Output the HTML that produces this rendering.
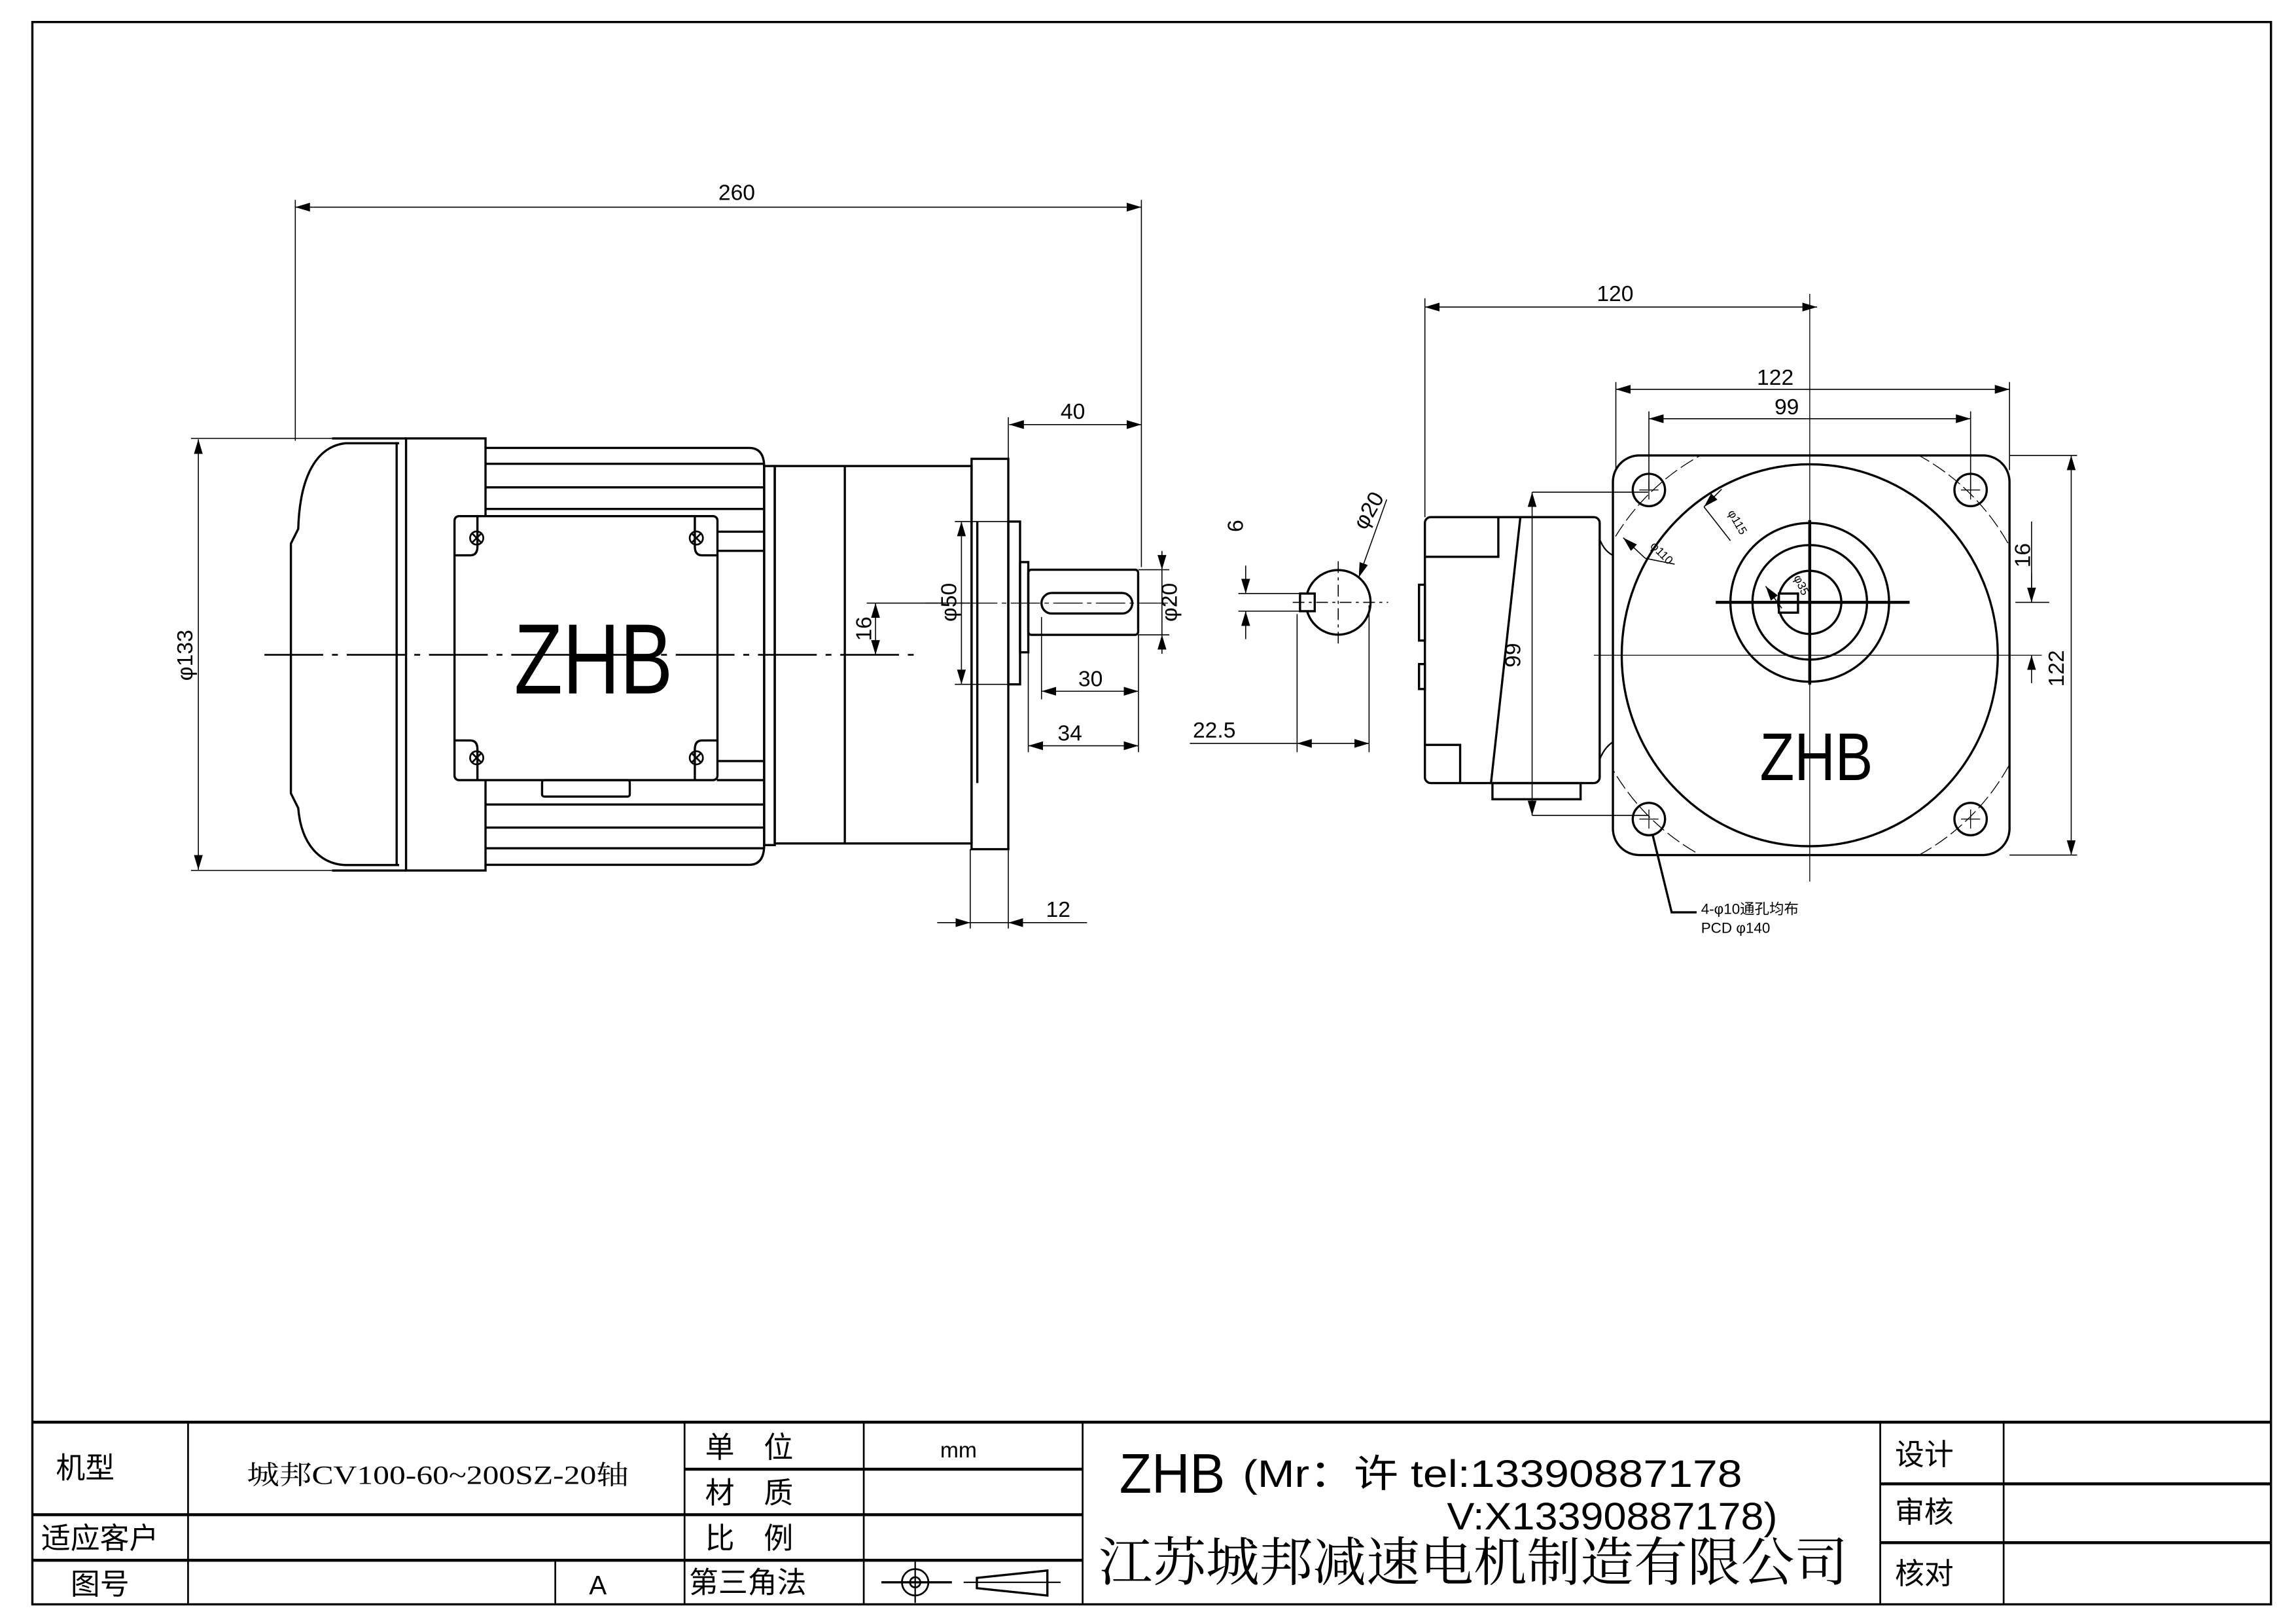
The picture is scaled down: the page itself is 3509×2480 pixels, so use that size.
<!DOCTYPE html>
<html><head><meta charset="utf-8"><style>
html,body{margin:0;padding:0;background:#fff}
svg{display:block}
text{font-family:"Liberation Sans","Noto Sans CJK SC",sans-serif;fill:#000}
.s{font-family:"Liberation Serif","Noto Serif CJK SC",serif}
</style></head><body>
<svg width="3509" height="2480" viewBox="0 0 1563 1104.7" xmlns="http://www.w3.org/2000/svg">
<defs>
<marker id="a" viewBox="0 0 10 6" refX="10" refY="3" markerWidth="10" markerHeight="6" orient="auto-start-reverse" markerUnits="userSpaceOnUse"><path d="M0,0 L10,3 L0,6z" fill="#000"/></marker>
</defs>
<rect width="1563" height="1105" fill="#fff"/>
<g fill="none" stroke="#000">
<rect x="22" y="15" width="1524" height="1077" stroke-width="1.5"/>
<g stroke-width="2">
<line x1="22" y1="968" x2="1546" y2="968"/>
<line x1="22" y1="1031" x2="737" y2="1031"/>
<line x1="22" y1="1062" x2="737" y2="1062"/>
<line x1="466" y1="1000" x2="737" y2="1000"/>
<line x1="1280" y1="1010" x2="1546" y2="1010"/>
<line x1="1280" y1="1050" x2="1546" y2="1050"/>
</g>
<g stroke-width="1.2">
<line x1="128" y1="968" x2="128" y2="1092"/>
<line x1="378" y1="1062" x2="378" y2="1092"/>
<line x1="466" y1="968" x2="466" y2="1092"/>
<line x1="588" y1="968" x2="588" y2="1092"/>
<line x1="737" y1="968" x2="737" y2="1092"/>
<line x1="1280" y1="968" x2="1280" y2="1092"/>
<line x1="1364" y1="968" x2="1364" y2="1092"/>
</g>
<circle cx="623" cy="1077" r="9" stroke-width="1.2"/><circle cx="623" cy="1077" r="3.5" stroke-width="1.2"/>
<line x1="600" y1="1077" x2="648" y2="1077" stroke-width="1.5"/><line x1="623" y1="1063" x2="623" y2="1091" stroke-width="1"/>
<path d="M713,1069 L665,1074 L665,1081 L713,1086 Z" stroke-width="1.5"/><line x1="656" y1="1077" x2="722" y2="1077" stroke-width="1"/>

<g stroke-width="1.5">
<path d="M271.7,301.7 L235,301.7 C215,304 204,325 203,360 L198,370 L198,540 L203,550 C205,575 218,588 235,588.8 L271.7,588.8"/>
<line x1="226" y1="298.4" x2="276.4" y2="298.4"/><line x1="226" y1="592.5" x2="276.4" y2="592.5"/>
<line x1="270" y1="301" x2="270" y2="589"/>
<rect x="276.4" y="298.4" width="54.1" height="294.1"/>
<path d="M330.5,304.9 H510 Q520.2,304.9 520.2,318 V575 Q520.2,588.6 510,588.6 H330.5"/>
<line x1="330.5" y1="315.7" x2="520.2" y2="315.7"/><line x1="330.5" y1="331.7" x2="520.2" y2="331.7"/><line x1="330.5" y1="346.4" x2="520.2" y2="346.4"/>
<line x1="330.5" y1="547.6" x2="520.2" y2="547.6"/><line x1="330.5" y1="563.3" x2="520.2" y2="563.3"/><line x1="330.5" y1="577.4" x2="520.2" y2="577.4"/>
<line x1="488" y1="361.9" x2="520.2" y2="361.9"/><line x1="488" y1="374.9" x2="520.2" y2="374.9"/>
<line x1="488" y1="518" x2="520.2" y2="518"/><line x1="488" y1="531" x2="520.2" y2="531"/>
<rect x="520.2" y="317.2" width="7.2" height="258"/>
<rect x="527.4" y="317.2" width="134" height="256.9"/>
<line x1="575.1" y1="317.2" x2="575.1" y2="574.1"/>
<rect x="661.4" y="312.3" width="25" height="265.7"/>
<line x1="665.3" y1="355" x2="665.3" y2="533"/>
<rect x="686.4" y="355" width="8" height="110.8"/>
<rect x="694.4" y="382.6" width="5.6" height="61.4"/>
<rect x="700" y="387.8" width="74.8" height="44.3" rx="2"/>
<rect x="709" y="403.6" width="61.8" height="14" rx="7"/>
<rect x="309.4" y="351.3" width="179" height="179.7" rx="3" fill="#fff"/>
<path d="M309.4,378 H320 Q325,378 325,372 V351.3 M488.4,378 H478 Q473,378 473,372 V351.3 M309.4,504 H320 Q325,504 325,510 V531 M488.4,504 H478 Q473,504 473,510 V531"/>
<rect x="369" y="531" width="59.7" height="11.2" rx="1.5"/>
</g>
<g stroke-width="1.2">
<circle cx="324.5" cy="366.2" r="4.5"/><path d="M321.3,363 l6.4,6.4 M327.7,363 l-6.4,6.4"/>
<circle cx="474" cy="366.2" r="4.5"/><path d="M470.8,363 l6.4,6.4 M477.2,363 l-6.4,6.4"/>
<circle cx="324.5" cy="515.8" r="4.5"/><path d="M321.3,512.6 l6.4,6.4 M327.7,512.6 l-6.4,6.4"/>
<circle cx="474" cy="515.8" r="4.5"/><path d="M470.8,512.6 l6.4,6.4 M477.2,512.6 l-6.4,6.4"/>
</g>
<line x1="180" y1="445.7" x2="628" y2="445.7" stroke-width="1.2" stroke-dasharray="40,6,4,6"/>
<line x1="630" y1="410.5" x2="802" y2="410.5" stroke-width="0.6" stroke-dasharray="20,3,3,3"/>
<g stroke-width="0.7">
<line x1="201" y1="136" x2="201" y2="300"/><line x1="777" y1="136" x2="777" y2="386"/>
<line x1="201" y1="141" x2="777" y2="141" marker-start="url(#a)" marker-end="url(#a)"/>
<line x1="686.4" y1="284" x2="686.4" y2="312"/>
<line x1="687" y1="289" x2="777" y2="289" marker-start="url(#a)" marker-end="url(#a)"/>
<line x1="130" y1="298.4" x2="226" y2="298.4"/><line x1="130" y1="592.5" x2="226" y2="592.5"/>
<line x1="135" y1="299" x2="135" y2="592" marker-start="url(#a)" marker-end="url(#a)"/>
<line x1="590" y1="410.5" x2="660" y2="410.5"/>
<line x1="596" y1="410.5" x2="596" y2="445.7" marker-start="url(#a)" marker-end="url(#a)"/>
<line x1="650" y1="355" x2="686" y2="355"/><line x1="650" y1="465.8" x2="686" y2="465.8"/>
<line x1="654.5" y1="355" x2="654.5" y2="465.8" marker-start="url(#a)" marker-end="url(#a)"/>
<line x1="775" y1="387.8" x2="796" y2="387.8"/><line x1="775" y1="432.1" x2="796" y2="432.1"/>
<line x1="791" y1="375" x2="791" y2="387.8" marker-end="url(#a)"/><line x1="791" y1="445" x2="791" y2="432.1" marker-end="url(#a)"/>
<line x1="791" y1="387.8" x2="791" y2="432.1"/>
<line x1="709" y1="420" x2="709" y2="476"/><line x1="700" y1="444" x2="700" y2="512"/><line x1="775" y1="432" x2="775" y2="512"/>
<line x1="709" y1="470.5" x2="775" y2="470.5" marker-start="url(#a)" marker-end="url(#a)"/>
<line x1="700" y1="507.6" x2="775" y2="507.6" marker-start="url(#a)" marker-end="url(#a)"/>
<line x1="660.5" y1="578" x2="660.5" y2="632"/><line x1="686.4" y1="578" x2="686.4" y2="632"/>
<line x1="638" y1="628" x2="660.5" y2="628" marker-end="url(#a)"/><line x1="740" y1="628" x2="686.4" y2="628" marker-end="url(#a)"/>
<line x1="660.5" y1="628" x2="686.4" y2="628"/>
</g>

<g stroke-width="1.5"><circle cx="911" cy="410" r="22"/><rect x="885" y="404" width="10" height="12" fill="#fff"/></g>
<g stroke-width="0.7">
<line x1="880" y1="410" x2="945" y2="410" stroke-dasharray="8,3,2,3"/><line x1="911" y1="382" x2="911" y2="440" stroke-dasharray="8,3,2,3"/>
<line x1="883" y1="418" x2="883" y2="512"/><line x1="932" y1="412" x2="932" y2="512"/>
<line x1="883" y1="506" x2="932" y2="506" marker-start="url(#a)" marker-end="url(#a)"/><line x1="810" y1="506" x2="883" y2="506"/>
<line x1="843" y1="404" x2="885" y2="404"/><line x1="843" y1="416" x2="885" y2="416"/>
<line x1="848" y1="385" x2="848" y2="404" marker-end="url(#a)"/><line x1="848" y1="435" x2="848" y2="416" marker-end="url(#a)"/>
<line x1="944" y1="340" x2="925" y2="393" marker-end="url(#a)"/>
</g>

<g stroke-width="1.5">
<ellipse cx="1232" cy="446" rx="128" ry="130"/>
<circle cx="1232" cy="410" r="54"/><circle cx="1232" cy="410" r="39"/><circle cx="1232" cy="410" r="21.5"/>
<rect x="1211" y="404" width="13" height="13" fill="#fff"/>
<circle cx="1122.5" cy="333.5" r="11"/><circle cx="1341.5" cy="333.5" r="11"/><circle cx="1122.5" cy="557.5" r="11"/><circle cx="1341.5" cy="557.5" r="11"/>
<line x1="1168" y1="410" x2="1300" y2="410" stroke-width="2"/><line x1="1232" y1="354" x2="1232" y2="466" stroke-width="2"/>
</g>
<circle cx="1232" cy="446" r="155" stroke-width="0.6" stroke-dasharray="10,3"/>
<path d="M1050,250 H1420 V640 H1050 Z M1116,310 Q1098,310 1098,328 V564 Q1098,582 1116,582 H1350 Q1368,582 1368,564 V328 Q1368,310 1350,310 Z" fill="#fff" fill-rule="evenodd" stroke="none"/>
<rect x="1098" y="310" width="270" height="272" rx="18" stroke-width="1.5"/>
<rect x="970" y="352" width="119" height="181" rx="4" stroke-width="1.5" fill="#fff"/>
<path d="M970,379 H1020 V352 M970,507 H994 V533 M1035,352 L1015,533" stroke-width="1.5"/>
<rect x="1016" y="533" width="60" height="11" stroke-width="1.5"/>
<rect x="966" y="398" width="4" height="38" stroke-width="1.5"/><rect x="966" y="452" width="4" height="17" stroke-width="1.5"/>
<path d="M1089,367 Q1092,375 1098,378 M1089,517 Q1092,509 1098,505" stroke-width="1"/>
<g stroke-width="0.6">
<line x1="1232" y1="200" x2="1232" y2="600"/>
<line x1="1085" y1="446" x2="1390" y2="446"/>
<path d="M1116,333.5 h13 M1122.5,327 v13 M1335,333.5 h13 M1341.5,327 v13 M1116,557.5 h13 M1122.5,551 v13 M1335,557.5 h13 M1341.5,551 v13"/>
</g>
<g stroke-width="0.7">
<line x1="970" y1="203" x2="970" y2="352"/><line x1="970" y1="209" x2="1237" y2="209" marker-start="url(#a)" marker-end="url(#a)"/>
<line x1="1100" y1="260" x2="1100" y2="320"/><line x1="1368" y1="260" x2="1368" y2="320"/>
<line x1="1100" y1="265" x2="1368" y2="265" marker-start="url(#a)" marker-end="url(#a)"/>
<line x1="1122.5" y1="280" x2="1122.5" y2="333"/><line x1="1341.5" y1="280" x2="1341.5" y2="333"/>
<line x1="1122.5" y1="285" x2="1341.5" y2="285" marker-start="url(#a)" marker-end="url(#a)"/>
<line x1="1043" y1="335" x2="1122" y2="335"/><line x1="1043" y1="555" x2="1122" y2="555"/>
<line x1="1043" y1="335" x2="1043" y2="555" marker-start="url(#a)" marker-end="url(#a)"/>
<line x1="1368" y1="310" x2="1414" y2="310"/><line x1="1368" y1="582" x2="1414" y2="582"/>
<line x1="1410" y1="310" x2="1410" y2="582" marker-start="url(#a)" marker-end="url(#a)"/>
<line x1="1372" y1="410" x2="1395" y2="410"/>
<line x1="1383" y1="390" x2="1383" y2="410" marker-end="url(#a)"/><line x1="1383" y1="465" x2="1383" y2="446" marker-end="url(#a)"/>
<line x1="1383" y1="355" x2="1383" y2="410"/>
<line x1="1160" y1="345" x2="1172" y2="333" marker-start="url(#a)"/><line x1="1160" y1="345" x2="1178" y2="368"/>
<line x1="1105" y1="366" x2="1120" y2="380" marker-start="url(#a)"/><line x1="1120" y1="380" x2="1140" y2="384"/>
<line x1="1202" y1="399" x2="1213" y2="414" marker-start="url(#a)"/>
</g>
<path d="M1125,568 L1138,621 H1155" stroke-width="1.5"/>
</g>

<text x="350" y="472" font-size="68" textLength="108" lengthAdjust="spacingAndGlyphs">ZHB</text>
<text x="1198" y="531" font-size="46" textLength="77" lengthAdjust="spacingAndGlyphs">ZHB</text>
<g font-size="15">
<text x="489" y="136">260</text>
<text x="722" y="285">40</text>
<text x="1087" y="205">120</text>
<text x="1196" y="262">122</text>
<text x="1208" y="282">99</text>
<text x="734" y="467">30</text>
<text x="720" y="504">34</text>
<text x="712" y="624">12</text>
<text x="812" y="502">22.5</text>
<text transform="translate(131,446) rotate(-90)" text-anchor="middle">φ133</text>
<text transform="translate(593,428) rotate(-90)" text-anchor="middle">16</text>
<text transform="translate(651,410) rotate(-90)" text-anchor="middle">φ50</text>
<text transform="translate(801,410) rotate(-90)" text-anchor="middle">φ20</text>
<text transform="translate(846,358) rotate(-90)" text-anchor="middle">6</text>
<text transform="translate(936,350) rotate(-60)" text-anchor="middle">φ20</text>
<text transform="translate(1035,446) rotate(-90)" text-anchor="middle">99</text>
<text transform="translate(1382,378) rotate(-90)" text-anchor="middle">16</text>
<text transform="translate(1405,455) rotate(-90)" text-anchor="middle">122</text>
</g>
<g font-size="8">
<text transform="translate(1176,349) rotate(60)">φ115</text>
<text transform="translate(1123,372) rotate(45)">φ110</text>
<text transform="translate(1221,393) rotate(65)">φ35</text>
<text x="1158" y="622" font-size="10">4-φ10通孔均布</text>
<text x="1158" y="635" font-size="10">PCD φ140</text>
</g>
<g font-size="20">
<text x="38" y="1006">机型</text>
<text x="28" y="1054">适应客户</text>
<text x="48" y="1085">图号</text>
<text x="480" y="992">单　位</text>
<text x="480" y="1023">材　质</text>
<text x="480" y="1054">比　例</text>
<text x="469" y="1084">第三角法</text>
<text x="1290" y="997">设计</text>
<text x="1290" y="1036">审核</text>
<text x="1290" y="1078">核对</text>
</g>
<text x="168" y="1010" font-size="18" class="s" textLength="260" lengthAdjust="spacingAndGlyphs">城邦CV100-60~200SZ-20轴</text>
<text x="640" y="992" font-size="15">mm</text>
<text x="401" y="1085" font-size="18">A</text>
<text x="762" y="1016" font-size="38" textLength="72" lengthAdjust="spacingAndGlyphs">ZHB</text>
<text x="846" y="1012" font-size="26" textLength="340" lengthAdjust="spacingAndGlyphs">(Mr：许 tel:13390887178</text>
<text x="985" y="1041" font-size="26" textLength="225" lengthAdjust="spacingAndGlyphs">V:X13390887178)</text>
<text x="748" y="1076" font-size="36" class="s" textLength="510" lengthAdjust="spacingAndGlyphs">江苏城邦减速电机制造有限公司</text>
</svg>
</body></html>
